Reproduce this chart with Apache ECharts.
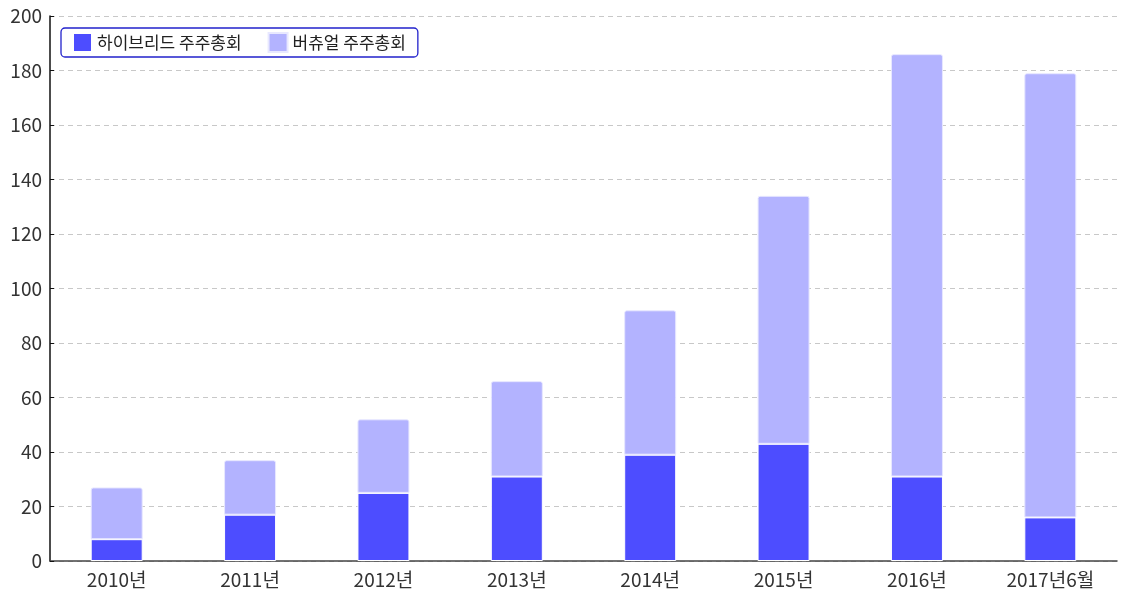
<!DOCTYPE html>
<html>
<head>
<meta charset="UTF-8">
<title>하이브리드 / 버츄얼 주주총회</title>
<script src="https://cdn.jsdelivr.net/npm/echarts@6/dist/echarts.min.js"></script>
<style>
  html, body { margin: 0; padding: 0; background: #fff; }
  #chart { width: 1125px; height: 592px; }
</style>
</head>
<body>
<div id="chart"></div>
<script>
// 연도별 주주총회 건수
const years = ['2010년', '2011년', '2012년', '2013년', '2014년', '2015년', '2016년', '2017년6월'];
const hybrid = [8, 17, 25, 31, 39, 43, 31, 16];
const virtual = [19, 20, 27, 35, 53, 91, 155, 163];

const font = '"Noto Sans CJK KR", "Noto Sans", sans-serif';

const myChart = echarts.init(document.getElementById('chart'));

const option = {
    animation: false,
    textStyle: { fontFamily: font },
    grid: { left: 50, right: 8, top: 16, bottom: 31, containLabel: false },
    legend: {
        left: 61,
        top: 28,
        padding: [4, 12, 4, 11],
        itemWidth: 19,
        itemHeight: 19,
        itemGap: 26,
        borderColor: '#2222cc',
        borderWidth: 1.3,
        borderRadius: 4,
        icon: 'rect',
        textStyle: { fontSize: 17, color: '#222', fontFamily: font },
        data: ['하이브리드 주주총회', '버츄얼 주주총회']
    },
    xAxis: {
        type: 'category',
        data: years,
        axisLine: { lineStyle: { color: '#444', width: 1.5 } },
        axisTick: { inside: true, length: 6, lineStyle: { color: '#222' } },
        axisLabel: { fontSize: 19, color: '#333', margin: 9, fontFamily: font }
    },
    yAxis: {
        type: 'value',
        min: 0,
        max: 200,
        interval: 20,
        axisLine: { show: true, lineStyle: { color: '#111', width: 1.5 } },
        axisTick: { show: true, inside: true, length: 4, lineStyle: { color: '#111' } },
        axisLabel: { fontSize: 19, color: '#333', margin: 8, fontFamily: font },
        splitLine: { lineStyle: { color: '#c8c8c8', type: [5, 4] } }
    },
    series: [
        {
            name: '하이브리드 주주총회',
            type: 'bar',
            stack: 'total',
            data: hybrid,
            barWidth: 52,
            itemStyle: { color: '#4d4dff', borderColor: '#ffffff', borderWidth: 1 }
        },
        {
            name: '버츄얼 주주총회',
            type: 'bar',
            stack: 'total',
            data: virtual,
            barWidth: 52,
            itemStyle: { color: '#b3b3ff', borderColor: '#e8e8ff', borderWidth: 1, borderRadius: [2, 2, 0, 0] }
        }
    ]
};

myChart.setOption(option);
</script>
</body>
</html>
